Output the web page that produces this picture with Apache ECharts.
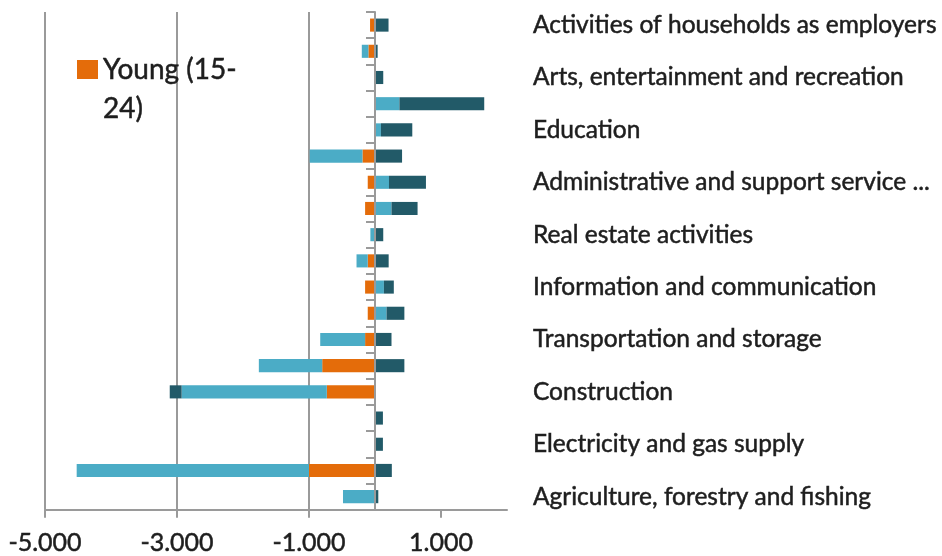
<!DOCTYPE html>
<html>
<head>
<meta charset="utf-8">
<script src="https://cdn.jsdelivr.net/npm/echarts@6/dist/echarts.min.js"></script>
<style>
  html, body { margin: 0; padding: 0; background: #fff; }
  #chart { width: 942px; height: 556px; }
</style>
</head>
<body>
<div id="chart"></div>
<script>
// sectors, bottom to top (first one is drawn at the bottom)
const sectors = [
  'Agriculture, forestry and fishing',
  'Manufacturing',
  'Electricity and gas supply',
  'Water supply, sewerage and waste management',
  'Construction',
  'Wholesale and retail trade',
  'Transportation and storage',
  'Accommodation and food service activities',
  'Information and communication',
  'Financial and insurance activities',
  'Real estate activities',
  'Professional, scientific and technical activities',
  'Administrative and support service activities',
  'Public administration and defence',
  'Education',
  'Human health and social work activities',
  'Arts, entertainment and recreation',
  'Other service activities',
  'Activities of households as employers'
]

// change in employment per age group
const young = [0, -1000, 0, 0, -730, -800, -150, -110, -150, -110, 0, -150, -110, -190, 0, 0, 0, -100, -75]
const prime = [-485, -3520, 0, 0, -2200, -960, -680, 175, 135, -170, -70, 250, 212, -800, 90, 370, 0, -100, 0]
const older = [50, 255, 120, 120, -180, 445, 250, 270, 150, 207, 125, 395, 560, 410, 475, 1285, 125, 40, 205]

const seriesNames = ['Young (15-24)', 'Prime age (25-49)', 'Older (50-64)']
const xTicks = [-5000, -3000, -1000, 1000]

const FONT = 'Lato'
const TEXT_COLOR = '#1e1e1e'
const GRID_COLOR = '#9a9a9a'

// -5000 -> "-5.000"
function fmtThousands(v) {
  const s = String(Math.abs(v)).replace(/\B(?=(\d{3})+(?!\d))/g, '.')
  return (v < 0 ? '-' : '') + s
}

const chart = echarts.init(document.getElementById('chart'))

function barSeries(name, data, color) {
  return {
    name: name,
    type: 'bar',
    stack: 'total',
    data: data,
    barCategoryGap: '50%',
    itemStyle: { color: color },
    emphasis: { disabled: true }
  }
}

// slightly heavier text, the original is a blurred Calibri
const heavy = {
  fontFamily: FONT,
  color: TEXT_COLOR,
  textBorderColor: TEXT_COLOR,
  textBorderWidth: 0.5
}

const option = {
  backgroundColor: '#fff',
  animation: false,
  textStyle: { fontFamily: FONT },
  grid: {
    left: 45,
    right: 435,
    top: 12,
    bottom: 46
  },
  legend: {
    data: [seriesNames[0]],
    left: 77,
    top: 11,
    padding: 0,
    itemWidth: 21,
    itemHeight: 19,
    icon: 'rect',
    // blank first line keeps the icon next to the first text line
    formatter: (name) => '\n' + name.replace('-', '-\n'),
    textStyle: Object.assign({}, heavy, {
      fontSize: 28,
      lineHeight: 39
    })
  },
  xAxis: {
    type: 'value',
    min: -5000,
    max: 2000,
    interval: 2000,
    axisLine: {
      show: true,
      onZero: false,
      lineStyle: { color: GRID_COLOR, width: 2 }
    },
    axisTick: {
      show: true,
      length: 8,
      customValues: xTicks,
      lineStyle: { color: GRID_COLOR, width: 2 }
    },
    axisLabel: Object.assign({}, heavy, {
      customValues: xTicks,
      formatter: fmtThousands,
      fontSize: 25,
      margin: 21
    }),
    splitLine: {
      show: true,
      showMinLine: true,
      showMaxLine: false,
      lineStyle: { color: GRID_COLOR, width: 2 }
    }
  },
  yAxis: [
    {
      // axis line sitting on zero, ticks only
      type: 'category',
      data: sectors,
      position: 'left',
      z: 5,
      axisLine: {
        show: true,
        onZero: true,
        lineStyle: { color: GRID_COLOR, width: 2 }
      },
      axisTick: {
        show: true,
        length: 9,
        lineStyle: { color: GRID_COLOR, width: 2 }
      },
      axisLabel: { show: false },
      splitLine: { show: false }
    },
    {
      // labels on the right of the plot
      type: 'category',
      data: sectors,
      position: 'right',
      axisLine: { show: false },
      axisTick: { show: false },
      splitLine: { show: false },
      axisLabel: Object.assign({}, heavy, {
        interval: 1,
        margin: 26,
        align: 'left',
        fontSize: 24.5,
        width: 406,
        overflow: 'truncate',
        ellipsis: '...'
      })
    }
  ],
  series: [
    barSeries(seriesNames[0], young, '#E46C0A'),
    barSeries(seriesNames[1], prime, '#4BACC6'),
    barSeries(seriesNames[2], older, '#225A68')
  ]
}

chart.setOption(option)
</script>
</body>
</html>
